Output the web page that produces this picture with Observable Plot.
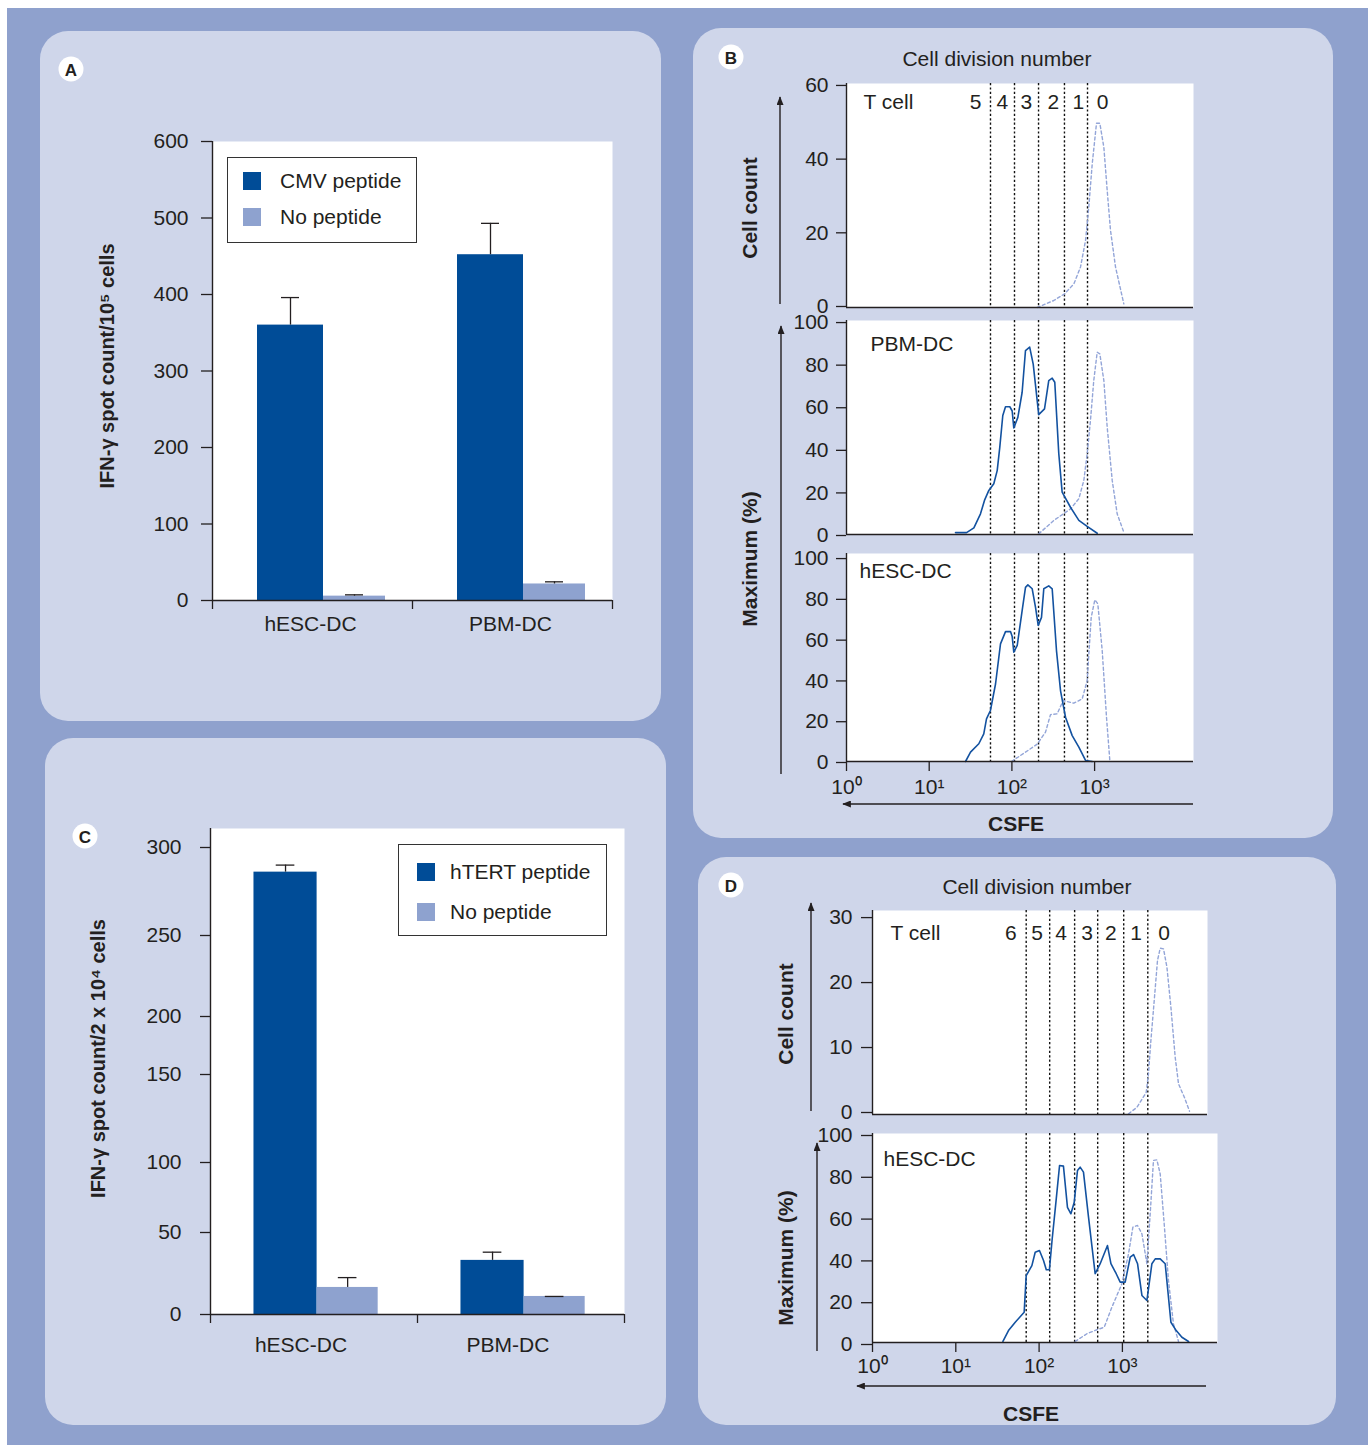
<!DOCTYPE html>
<html>
<head>
<meta charset="utf-8">
<script src="https://cdn.jsdelivr.net/npm/d3@7"></script>
<script src="https://cdn.jsdelivr.net/npm/@observablehq/plot@0.6"></script>
<style>
  html, body { margin: 0; padding: 0; background: #ffffff; }
  #root { position: relative; width: 1368px; height: 1445px; overflow: hidden; font-family: "Liberation Sans", Arial, Helvetica, sans-serif; color: #231f20; }
  .bg { position: absolute; left: 7px; top: 8px; width: 1361px; height: 1437px; background: #8fa1cd; }
  .panel { position: absolute; background: #cfd6ea; border-radius: 28px; }
  .chart { position: absolute; }
  .chart svg { display: block; overflow: visible; }
  .legend { position: absolute; box-sizing: border-box; background: #fff; border: 1.5px solid #333; }
  .legend .sw { position: absolute; width: 18px; height: 18px; }
  .legend .tx { position: absolute; font-size: 21px; line-height: 24px; white-space: nowrap; }
  #overlay { position: absolute; left: 0; top: 0; pointer-events: none; }
</style>
</head>
<body>
<div id="root">
  <div class="bg"></div>
  <div class="panel" style="left:40px;top:31px;width:621px;height:690px"></div>
  <div class="panel" style="left:693px;top:28px;width:640px;height:810px"></div>
  <div class="panel" style="left:45px;top:738px;width:621px;height:687px"></div>
  <div class="panel" style="left:698px;top:857px;width:638px;height:568px"></div>
</div>
<script>
// ---------------- Data ----------------
// Panel A
const aCategories = ["hESC-DC", "PBM-DC"];
const aSeries = ["CMV peptide", "No peptide"];
const aCMV = [360, 452];
const aCMVsd = [36, 41];
const aNoPeptide = [5.7, 21.6];
const aNoPeptideSd = [1.7, 2.8];
const aTicks = [0, 100, 200, 300, 400, 500, 600];

// Panel C
const cCategories = ["hESC-DC", "PBM-DC"];
const cSeries = ["hTERT peptide", "No peptide"];
const cHTERT = [286, 33];
const cHTERTsd = [4, 5];
const cNoPeptide = [16.5, 11];
const cNoPeptideSd = [6, 0];
const cTicks = [0, 50, 100, 150, 200, 250, 300];

// Panel B : CSFE histograms [CSFE intensity, value]
const bTcell = [[202,0],[321,1.9],[433,3.7],[561,6.4],[676,11],[777,18.2],[851,27.3],[936,39],[1054,50],[1157,50],[1294,43.5],[1420,31.8],[1556,21],[1790,11],[2255,1]];
const bPbmStim = [[20.8,0.9],[28.3,0.9],[34.7,3.1],[41.7,9.7],[46.6,16],[52.6,20.7],[60.4,23.8],[66.4,30],[71.4,41],[77.6,55.9],[83.7,60],[94.4,60],[100.8,58],[105.4,50],[118,55],[133,66.8],[146,86.4],[164,88],[181,80],[211,56.3],[248,59],[279,72.3],[307,73.4],[330,71.5],[369,37.9],[405,19.9],[511,12.8],[645,6.6],[813,3.8],[1075,0.6]];
const bPbmCtrl = [[211,0.3],[321,6.6],[511,12],[645,16.8],[741,25.4],[813,37.9],[891,53.5],[977,72.3],[1075,85.6],[1157,84.8],[1294,72.3],[1420,50.4],[1633,25.4],[1875,9.7],[2255,1.1]];
const bHescStim = [[27.5,0],[31.6,4.6],[39.8,8.7],[45.7,13.5],[49.3,20.9],[55,25],[63.4,38],[72.8,57.7],[83.7,63.7],[96.2,63.7],[100.8,61.3],[105.4,53.6],[116,56.9],[133,74],[146,85.4],[156,86.6],[176,84.7],[193,75.6],[208,66.7],[228,70.7],[243,84.7],[279,86.1],[307,84.7],[346,54.4],[387,34.8],[445,21.7],[536,12.7],[645,7],[777,0.5],[936,0]];
const bHescCtrl = [[98.9,0],[146,4.6],[202,8.5],[255,14.4],[293,23],[353,23.4],[417,29.9],[561,28.6],[708,30.7],[813,39.7],[910,70.7],[1007,79.3],[1094,77.3],[1236,54.4],[1393,21.7],[1528,0.5]];
const bGates = [55.1, 107.5, 210, 432, 821];
const bDivLabels = ["5", "4", "3", "2", "1", "0"];
const bDivPos = [36.3, 76.9, 150, 318, 638, 1245];

// Panel D
const dTcell = [[1184,0.1],[1493,1.1],[1931,3.4],[2056,6.3],[2198,11.4],[2409,17.5],[2638,23.7],[2843,25.6],[3117,25.5],[3422,22.7],[3823,16.5],[4305,8.8],[4720,4.7],[5523,2.7],[6393,0.5]];
const dHescStim = [[36.8,0.5],[42.9,5.7],[51.7,9.7],[66.2,14.5],[70,32],[81.9,36.8],[89.8,43.2],[101,44],[113,39.2],[122,34.8],[133,34.8],[143,48.8],[160,68],[176,84.7],[196,84.4],[219,64.7],[241,61.6],[264,67.1],[289,82.3],[311,83.9],[341,81.5],[392,60],[471,32.9],[541,37.7],[662,46.4],[728,37.7],[843,32.9],[941,28.9],[1080,28.9],[1241,40.8],[1361,42.1],[1520,37.7],[1715,22.5],[1968,20.1],[2260,37.7],[2478,40],[2843,40],[3264,37.7],[3823,9.7],[4427,5.7],[5181,2.5],[6220,0.5]];
const dHescCtrl = [[271,0.5],[375,4.2],[494,6.1],[605,7.3],[748,16.9],[986,28.1],[1184,42.4],[1336,55.2],[1520,56],[1715,52],[1968,37.7],[2156,61.6],[2360,87.1],[2594,87.4],[2843,80.7],[3175,56.8],[3573,29.7],[4102,8.9],[4720,0.5]];
const dGates = [70, 134, 267, 505, 1037, 2018];
const dDivLabels = ["6", "5", "4", "3", "2", "1", "0"];
const dDivPos = [45.9, 94.9, 184, 378, 728, 1465, 3175];

// ---------------- Styles ----------------
const FONT = '"Liberation Sans", Arial, Helvetica, sans-serif';
const INK = "#231f20";
const DARK_BLUE = "#004c97";
const LIGHT_BLUE = "#8ea2cf";
const CURVE_STIM = "#1352a0";
const CURVE_CTRL = "#93a5d8";
const baseStyle = {fontFamily: FONT, fontSize: "21px", color: INK, background: "transparent", overflow: "visible"};
const SUP = {0: "\u2070", 1: "\u00b9", 2: "\u00b2", 3: "\u00b3"};

const root = document.getElementById("root");
function place(node, left, top) {
  const w = document.createElement("div");
  w.className = "chart";
  w.style.left = left + "px";
  w.style.top = top + "px";
  w.appendChild(node);
  root.appendChild(w);
}
function legend(left, top, w, h, items, swX, swY, gap, txX) {
  const d = document.createElement("div");
  d.className = "legend";
  Object.assign(d.style, {left: left + "px", top: top + "px", width: w + "px", height: h + "px"});
  items.forEach((it, k) => {
    const s = document.createElement("div");
    s.className = "sw";
    Object.assign(s.style, {left: swX + "px", top: (swY + k * gap) + "px", background: it.color});
    const t = document.createElement("div");
    t.className = "tx";
    t.textContent = it.label;
    Object.assign(t.style, {left: txX + "px", top: (swY + k * gap - 3) + "px"});
    d.appendChild(s); d.appendChild(t);
  });
  root.appendChild(d);
}

// ---------------- Bar charts ----------------
function barChart(o) {
  const rows = [];
  o.cats.forEach((cat, i) => o.series.forEach((s, j) => rows.push({cat, series: s, i, j, mean: o.means[j][i], sd: o.sds[j][i]})));
  const left = d => d.i + o.slots[d.j][0];
  const right = d => d.i + o.slots[d.j][1];
  const mid = d => d.i + (o.slots[d.j][0] + o.slots[d.j][1]) / 2;
  const top = d => d.mean + d.sd;
  return Plot.plot({
    width: o.width, height: o.height,
    marginLeft: o.ml, marginRight: o.mr, marginTop: o.mt, marginBottom: o.mb,
    style: baseStyle,
    x: {type: "linear", domain: [0, o.cats.length]},
    y: o.y,
    marks: [
      Plot.frame({fill: "#ffffff", stroke: "none"}),
      ...o.series.map((s, j) => Plot.rect(rows.filter(d => d.j === j), {x1: left, x2: right, y1: () => 0, y2: "mean", fill: o.colors[j]})),
      Plot.ruleX(rows.filter(d => d.sd > 0), {x: mid, y1: "mean", y2: top, stroke: INK, strokeWidth: 1.3}),
      Plot.ruleY(rows, {y: top, x1: d => mid(d) - o.cap, x2: d => mid(d) + o.cap, stroke: INK, strokeWidth: 1.3}),
      Plot.ruleX([0], {stroke: INK, strokeWidth: 1.4}),
      Plot.ruleY([0], {stroke: INK, strokeWidth: 1.4}),
      Plot.axisY({ticks: o.ticks, tickSize: o.tickSize, tickPadding: o.tickPad, label: null, strokeWidth: 1.3}),
      Plot.axisX({ticks: d3.range(o.cats.length + 1), tickFormat: () => "", tickSize: 9, label: null, strokeWidth: 1.3}),
      Plot.axisX({ticks: o.cats.map((c, i) => i + 0.5), tickFormat: v => o.cats[Math.floor(v)], tickSize: 0, tickPadding: o.catPad, dx: o.catDx || 0, label: null}),
      Plot.text([o.title], {text: d => d, frameAnchor: "left", textAnchor: "middle", lineAnchor: "middle", rotate: -90, dx: o.titleDx, dy: o.titleDy, fontWeight: "bold", fontSize: 20, fill: INK})
    ]
  });
}

// Panel A: frame x 212..612, y 141..600
place(barChart({
  cats: aCategories, series: aSeries,
  means: [aCMV, aNoPeptide], sds: [aCMVsd, aNoPeptideSd],
  colors: [DARK_BLUE, LIGHT_BLUE],
  slots: [[0.225, 0.555], [0.555, 0.865]], cap: 0.045,
  width: 540, height: 540, ml: 112, mr: 28, mt: 31, mb: 50,
  y: {type: "linear", domain: [0, 600]},
  ticks: aTicks, tickSize: 11, tickPad: 13, catPad: 16, catDx: -2,
  title: "IFN-\u03b3 spot count/10\u2075 cells", titleDx: -105, titleDy: -5
}), 100, 110);
legend(227, 157, 190, 86, [{label: aSeries[0], color: DARK_BLUE}, {label: aSeries[1], color: LIGHT_BLUE}], 15, 14, 36, 52);

// Panel C: frame x 210..624, y 828..1314 (irregular published axis -> piecewise scale)
const cTickPx = [514, 432, 362, 274, 216, 135, 47];
place(barChart({
  cats: cCategories, series: cSeries,
  means: [cHTERT, cNoPeptide], sds: [cHTERTsd, cNoPeptideSd],
  colors: [DARK_BLUE, LIGHT_BLUE],
  slots: [[0.21, 0.515], [0.515, 0.81]], cap: 0.045,
  width: 540, height: 574, ml: 110, mr: 16, mt: 28, mb: 60,
  y: {type: "linear", domain: [...cTicks, 311], range: [...cTickPx, 28]},
  ticks: cTicks, tickSize: 10, tickPad: 19, catPad: 23, catDx: -13,
  title: "IFN-\u03b3 spot count/2 x 10\u2074 cells", titleDx: -112, titleDy: -13
}), 100, 800);
legend(398, 844, 209, 92, [{label: cSeries[0], color: DARK_BLUE}, {label: cSeries[1], color: LIGHT_BLUE}], 18, 18, 40, 51);

// ---------------- Histograms ----------------
function histPlot(o) {
  const marks = [
    Plot.frame({fill: "#ffffff", stroke: "none"}),
    Plot.ruleX(o.gates, {stroke: "#111", strokeWidth: 1.4, strokeDasharray: "2.2,2.2"}),
    ...o.lines.map(l => Plot.line(l.data, {x: d => d[0], y: d => d[1], stroke: l.color, strokeWidth: l.dash ? 1.4 : 1.6, strokeDasharray: l.dash ? "3,2.6" : null})),
    Plot.ruleX([1], {stroke: INK, strokeWidth: 1.4}),
    Plot.ruleY([0], {stroke: INK, strokeWidth: 1.4}),
    Plot.axisY({ticks: o.yTicks, tickSize: o.tickSize, tickPadding: o.tickPad, label: null, strokeWidth: 1.3, dy: o.yLabelDy || 0}),
    Plot.text([o.name], {text: d => d, frameAnchor: "top-left", dx: o.nameDx, dy: o.nameDy, textAnchor: "start", lineAnchor: "middle", fill: INK})
  ];
  if (o.divLabels) marks.push(Plot.text(o.divLabels, {x: (d, i) => o.divPos[i], text: d => d, frameAnchor: "top", dy: o.divDy, lineAnchor: "middle", fill: INK}));
  if (o.xAxis) marks.push(Plot.axisX({ticks: [1, 10, 100, 1000], tickFormat: d => "10" + SUP[Math.round(Math.log10(d))], tickSize: 10, tickPadding: o.xPad, label: null, strokeWidth: 1.3}));
  return Plot.plot({
    width: o.width, height: o.height,
    marginLeft: o.ml, marginRight: o.mr, marginTop: o.mt, marginBottom: o.mb,
    style: baseStyle,
    x: {type: "log", domain: o.xDomain, axis: o.xAxis ? undefined : null},
    y: {type: "linear", domain: o.yDomain},
    marks
  });
}

// Panel B: frame x 846..1193 (10^0 at 846, 82.7 px/decade)
const bX = [1, Math.pow(10, 347 / 82.7)];
place(histPlot({width: 453, height: 247, ml: 86, mr: 20, mt: 13, mb: 10, xDomain: bX, yDomain: [0, 60.8], yTicks: [0, 20, 40, 60],
  tickSize: 10, tickPad: 8, yLabelDy: -1, gates: bGates, lines: [{data: bTcell, color: CURVE_CTRL, dash: true}],
  name: "T cell", nameDx: 17, nameDy: 19, divLabels: bDivLabels, divPos: bDivPos, divDy: 19}), 760, 70);
place(histPlot({width: 453, height: 234, ml: 86, mr: 20, mt: 12, mb: 8, xDomain: bX, yDomain: [0, 100.5], yTicks: [0, 20, 40, 60, 80, 100],
  tickSize: 10, tickPad: 8, yLabelDy: 1, gates: bGates, lines: [{data: bPbmCtrl, color: CURVE_CTRL, dash: true}, {data: bPbmStim, color: CURVE_STIM}],
  name: "PBM-DC", nameDx: 24, nameDy: 24}), 760, 308);
place(histPlot({width: 453, height: 263, ml: 86, mr: 20, mt: 13, mb: 42, xDomain: bX, yDomain: [0, 102], yTicks: [0, 20, 40, 60, 80, 100],
  tickSize: 10, tickPad: 8, yLabelDy: 1, gates: bGates, lines: [{data: bHescCtrl, color: CURVE_CTRL, dash: true}, {data: bHescStim, color: CURVE_STIM}],
  name: "hESC-DC", nameDx: 13, nameDy: 18, xAxis: true, xPad: 8}), 760, 540);

// Panel D: 10^0 at 872, 83.3 px/decade
place(histPlot({width: 437, height: 227, ml: 82, mr: 20, mt: 15, mb: 8, xDomain: [1, Math.pow(10, 335 / 83.3)], yDomain: [0, 31.4], yTicks: [0, 10, 20, 30],
  tickSize: 11, tickPad: 9, yLabelDy: -2, gates: dGates, lines: [{data: dTcell, color: CURVE_CTRL, dash: true}],
  name: "T cell", nameDx: 18, nameDy: 23, divLabels: dDivLabels, divPos: dDivPos, divDy: 23}), 790, 895);
place(histPlot({width: 447, height: 262, ml: 82, mr: 20, mt: 13, mb: 40, xDomain: [1, Math.pow(10, 345 / 83.3)], yDomain: [0, 100], yTicks: [0, 20, 40, 60, 80, 100],
  tickSize: 11, tickPad: 9, yLabelDy: 2, gates: dGates, lines: [{data: dHescCtrl, color: CURVE_CTRL, dash: true}, {data: dHescStim, color: CURVE_STIM}],
  name: "hESC-DC", nameDx: 11, nameDy: 26, xAxis: true, xPad: 6}), 790, 1120);

// ---------------- Overlay: arrows, titles, panel letters ----------------
root.insertAdjacentHTML("beforeend", `
<svg id="overlay" width="1368" height="1445" viewBox="0 0 1368 1445" font-family="Liberation Sans, Arial, sans-serif" fill="${INK}">
  <defs>
    <marker id="ah" viewBox="0 0 10 8" refX="9" refY="4" markerWidth="10" markerHeight="7" markerUnits="userSpaceOnUse" orient="auto">
      <path d="M0,0 L10,4 L0,8 Z" fill="${INK}"/>
    </marker>
  </defs>
  <g stroke="${INK}" stroke-width="1.4" fill="none">
    <line x1="780" y1="304" x2="780" y2="97" marker-end="url(#ah)"/>
    <line x1="781" y1="774" x2="781" y2="326" marker-end="url(#ah)"/>
    <line x1="1193" y1="804" x2="843" y2="804" marker-end="url(#ah)"/>
    <line x1="811" y1="1111" x2="811" y2="903" marker-end="url(#ah)"/>
    <line x1="817" y1="1351" x2="817" y2="1143" marker-end="url(#ah)"/>
    <line x1="1206" y1="1386" x2="857" y2="1386" marker-end="url(#ah)"/>
  </g>
  <g font-size="21" text-anchor="middle" dominant-baseline="central">
    <text x="997" y="58">Cell division number</text>
    <text x="1037" y="886">Cell division number</text>
  </g>
  <g font-size="21" font-weight="bold" text-anchor="middle" dominant-baseline="central">
    <text transform="translate(749,208) rotate(-90)">Cell count</text>
    <text transform="translate(749,559) rotate(-90)">Maximum (%)</text>
    <text x="1016" y="823">CSFE</text>
    <text transform="translate(785,1014) rotate(-90)">Cell count</text>
    <text transform="translate(785,1258) rotate(-90)">Maximum (%)</text>
    <text x="1031" y="1413">CSFE</text>
  </g>
  <g>
    <circle cx="71" cy="69" r="12.5" fill="#fff"/>
    <circle cx="731" cy="57" r="12.5" fill="#fff"/>
    <circle cx="85" cy="836" r="12.5" fill="#fff"/>
    <circle cx="731" cy="885" r="12.5" fill="#fff"/>
  </g>
  <g font-size="17" font-weight="bold" text-anchor="middle" dominant-baseline="central">
    <text x="71" y="70">A</text>
    <text x="731" y="58">B</text>
    <text x="85" y="837">C</text>
    <text x="731" y="886">D</text>
  </g>
</svg>`);
</script>
</body>
</html>
